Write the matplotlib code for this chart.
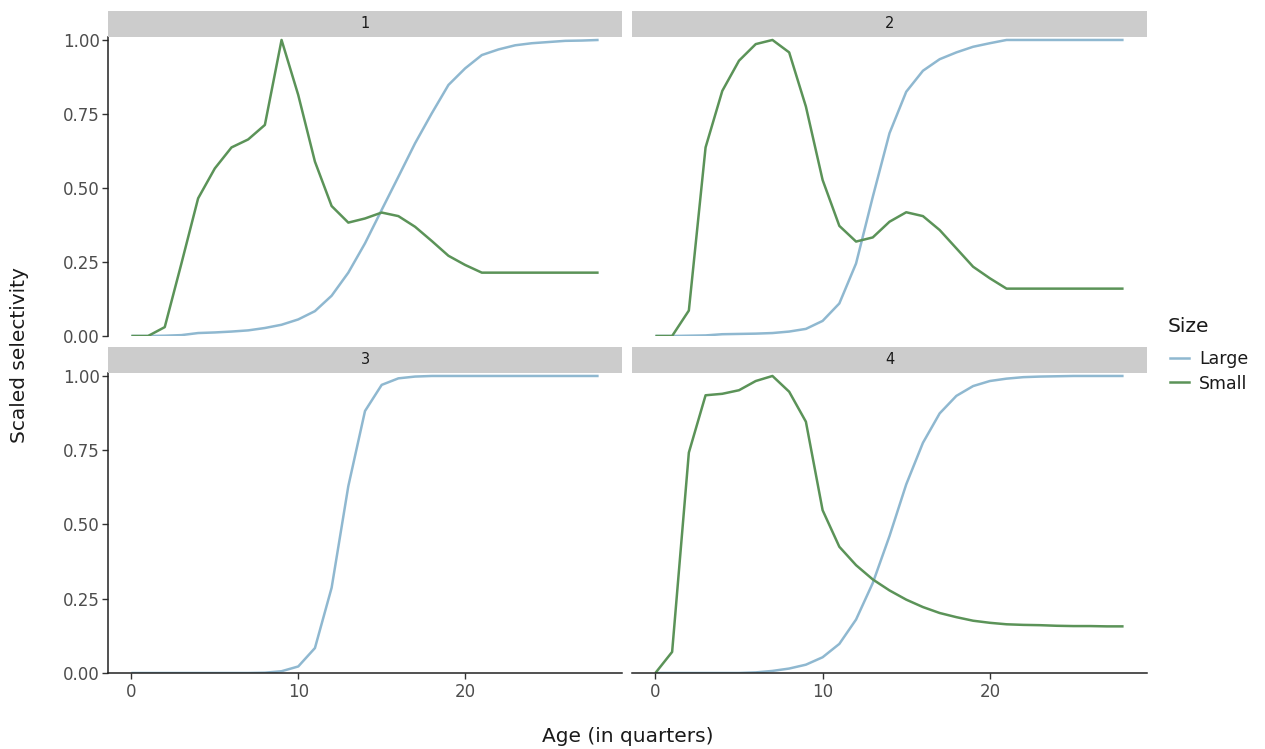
import numpy as np
import matplotlib
matplotlib.use("Agg")
import matplotlib.pyplot as plt
from matplotlib.lines import Line2D
from matplotlib.patches import Rectangle

# Ages (quarters) and scaled selectivity
age = list(range(29))

large_1 = [0, 0, 0.001, 0.003, 0.010, 0.012, 0.015, 0.019, 0.027, 0.038, 0.056, 0.084,
           0.136, 0.214, 0.313, 0.426, 0.538, 0.651, 0.752, 0.848, 0.904, 0.949, 0.968,
           0.982, 0.989, 0.993, 0.997, 0.998, 1.0]
small_1 = [0, 0, 0.030, 0.245, 0.465, 0.566, 0.637, 0.664, 0.713, 1.0, 0.814, 0.589,
           0.439, 0.383, 0.397, 0.417, 0.405, 0.369, 0.321, 0.271, 0.240, 0.214, 0.214,
           0.214, 0.214, 0.214, 0.214, 0.214, 0.214]

large_2 = [0, 0, 0.001, 0.002, 0.006, 0.007, 0.008, 0.010, 0.015, 0.024, 0.051, 0.110,
           0.245, 0.470, 0.685, 0.825, 0.896, 0.935, 0.958, 0.977, 0.989, 1.0, 1.0,
           1.0, 1.0, 1.0, 1.0, 1.0, 1.0]
small_2 = [0, 0, 0.086, 0.637, 0.828, 0.930, 0.986, 1.0, 0.958, 0.775, 0.527, 0.372,
           0.319, 0.333, 0.386, 0.418, 0.405, 0.358, 0.296, 0.234, 0.195, 0.160, 0.160,
           0.160, 0.160, 0.160, 0.160, 0.160, 0.160]

large_3 = [0, 0, 0, 0, 0, 0, 0, 0, 0.001, 0.006, 0.022, 0.084, 0.287, 0.629, 0.882,
           0.970, 0.992, 0.998, 1.0, 1.0, 1.0, 1.0, 1.0, 1.0, 1.0, 1.0, 1.0, 1.0, 1.0]

large_4 = [0, 0, 0, 0, 0, 0, 0.002, 0.007, 0.015, 0.028, 0.053, 0.098, 0.180, 0.303,
           0.461, 0.635, 0.775, 0.874, 0.933, 0.966, 0.983, 0.991, 0.996, 0.998, 0.999,
           1.0, 1.0, 1.0, 1.0]
small_4 = [0, 0.071, 0.742, 0.935, 0.940, 0.952, 0.983, 1.0, 0.947, 0.846, 0.548, 0.425,
           0.363, 0.315, 0.278, 0.247, 0.222, 0.202, 0.188, 0.176, 0.169, 0.164, 0.162,
           0.161, 0.159, 0.158, 0.158, 0.157, 0.157]

panels = ['1', '2', '3', '4']
series = {
    '1': {'Large': large_1, 'Small': small_1},
    '2': {'Large': large_2, 'Small': small_2},
    '3': {'Large': large_3},
    '4': {'Large': large_4, 'Small': small_4},
}
colors = {'Large': '#8fb8d0', 'Small': '#5b9358'}

W, H = 1265, 749
fig = plt.figure(figsize=(W / 100, H / 100), dpi=100)

def px_axes(left, top, right, bottom):
    return fig.add_axes([left / W, 1 - bottom / H, (right - left) / W, (bottom - top) / H])

# panel boxes in pixels: (left, strip_top, strip_bottom, bottom)
cols = [(108, 622), (632, 1147)]
rows = [(11, 37, 336), (347, 373, 673)]

for k, name in enumerate(panels):
    r, c = divmod(k, 2)
    left, right = cols[c]
    s_top, s_bot, bottom = rows[r]
    ax = px_axes(left, s_bot, right, bottom)
    for lab, vals in series[name].items():
        ax.plot(age, vals, color=colors[lab], lw=1.8, solid_capstyle='butt')
    ax.set_xlim(-1.4, 29.4)
    ax.set_ylim(0, 1.01)
    ax.set_xticks([0, 10, 20])
    ax.set_yticks([0, 0.25, 0.5, 0.75, 1.0])
    ax.set_yticklabels(['0.00', '0.25', '0.50', '0.75', '1.00'])
    for sp in ['top', 'right']:
        ax.spines[sp].set_visible(False)
    ax.spines['left'].set_visible(c == 0)
    ax.spines['bottom'].set_visible(r == 1)
    for sp in ['left', 'bottom']:
        ax.spines[sp].set_linewidth(1.1)
        ax.spines[sp].set_color('#222222')
    ax.tick_params(axis='y', left=(c == 0), labelleft=(c == 0), length=4,
                   width=1.0, labelsize=12, colors='#333333', pad=2)
    ax.tick_params(axis='x', bottom=(r == 1), labelbottom=(r == 1), length=4,
                   width=1.0, labelsize=12, colors='#333333', pad=3)
    for t in ax.get_yticklabels() + ax.get_xticklabels():
        t.set_color('#4d4d4d')
    ax.patch.set_alpha(0)

    # strip
    sax = px_axes(left, s_top, right, s_bot)
    sax.add_patch(Rectangle((0, 0), 1, 1, transform=sax.transAxes, color='#cccccc'))
    sax.text(0.5, 0.5, name, ha='center', va='center', fontsize=10.5, color='#1a1a1a')
    sax.set_axis_off()

fig.text(628 / W, 1 - 736 / H, 'Age (in quarters)', ha='center', va='center',
         fontsize=14.5, color='#1a1a1a')
fig.text(20 / W, 1 - 355 / H, 'Scaled selectivity', ha='center', va='center',
         rotation=90, fontsize=14.5, color='#1a1a1a')

# legend: title as separate text so the gap to the keys matches
fig.text(1168 / W, 1 - 327 / H, 'Size', ha='left', va='center',
         fontsize=14.5, color='#1a1a1a')
handles = [Line2D([], [], color=colors[l], lw=1.8) for l in ['Large', 'Small']]
leg = fig.legend(handles, ['Large', 'Small'], loc='upper left',
                 bbox_to_anchor=(1154 / W, 1 - 334 / H), frameon=False,
                 fontsize=12.5, handlelength=1.1,
                 handletextpad=0.6, labelspacing=0.4)
for t in leg.get_texts():
    t.set_color('#1a1a1a')

fig.savefig('out.png', dpi=100)
